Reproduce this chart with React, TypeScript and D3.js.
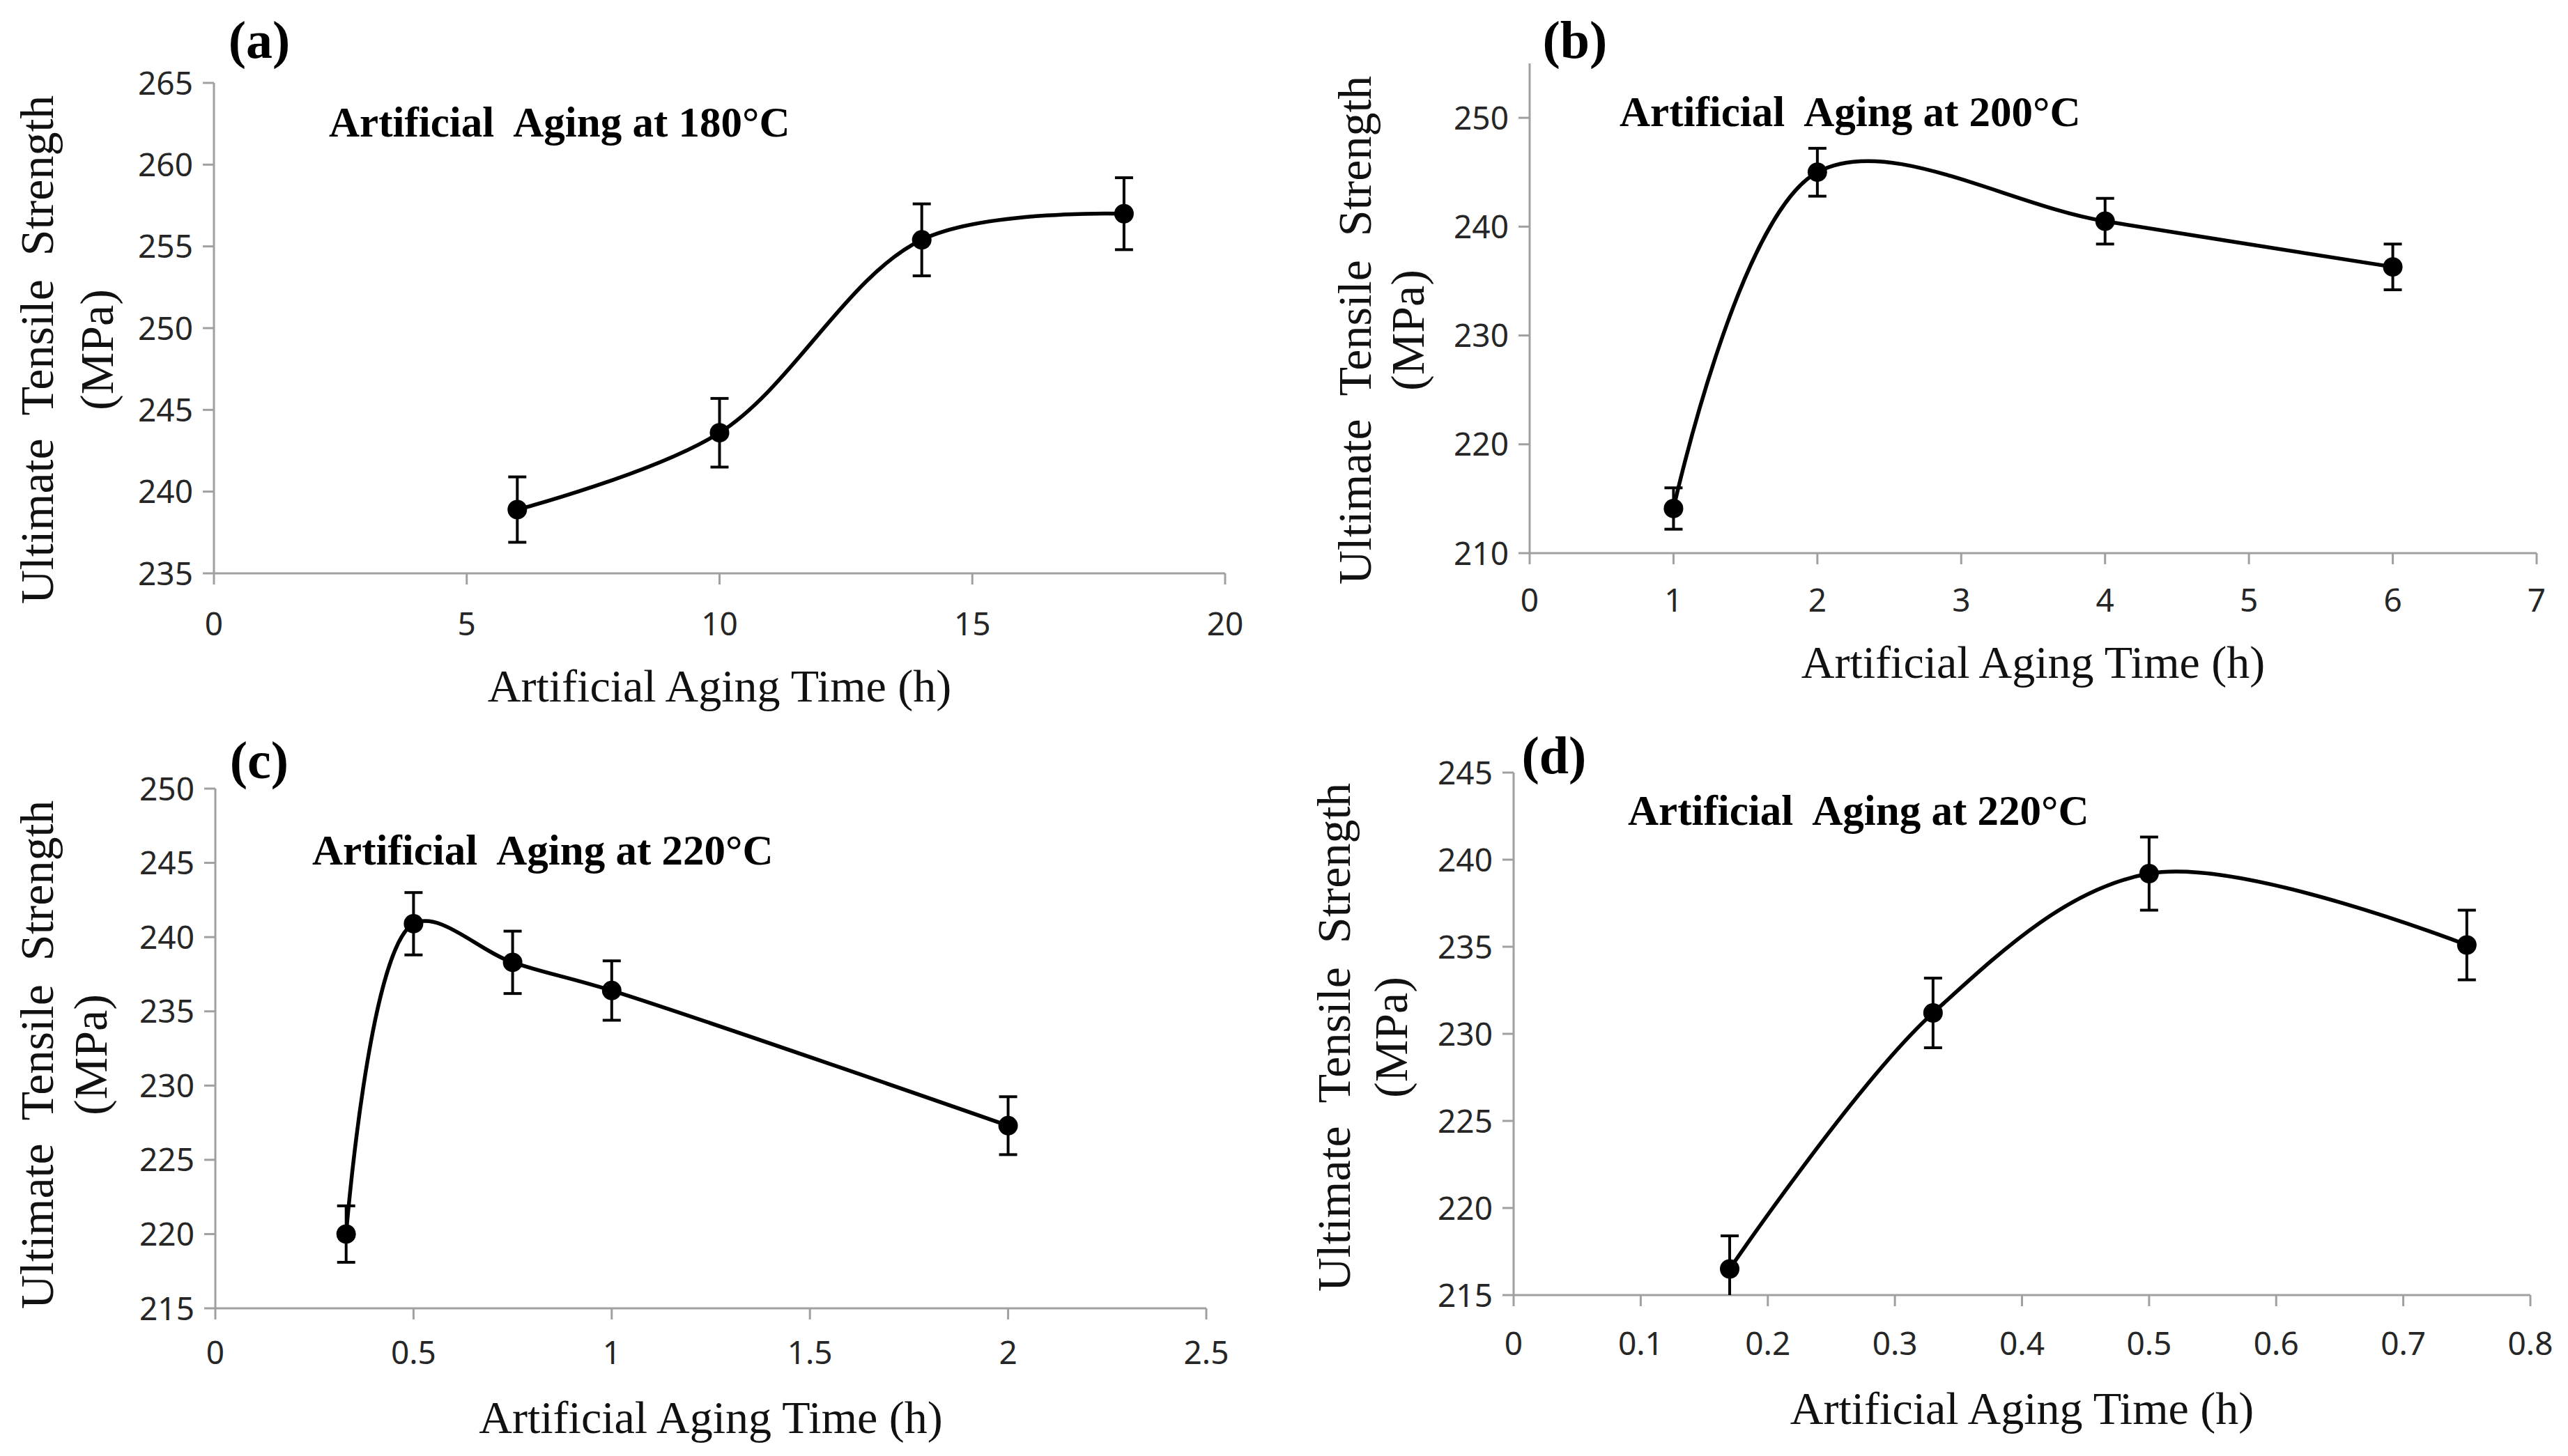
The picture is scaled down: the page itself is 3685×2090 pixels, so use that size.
import * as d3 from "d3"

const W = 3685
const H = 2090

// (a) aging at 180°C
const timeA = [6, 10, 14, 18]
const utsA = [238.9, 243.6, 255.4, 257.0]
const errA = [2.0, 2.1, 2.2, 2.2]
const xTicksA = [0, 5, 10, 15, 20]
const yTicksA = [235, 240, 245, 250, 255, 260, 265]

// (b) aging at 200°C
const timeB = [1, 2, 4, 6]
const utsB = [214.1, 245.0, 240.5, 236.3]
const errB = [1.9, 2.2, 2.1, 2.1]
const xTicksB = [0, 1, 2, 3, 4, 5, 6, 7]
const yTicksB = [210, 220, 230, 240, 250]

// (c) aging at 220°C
const timeC = [0.33, 0.5, 0.75, 1, 2]
const utsC = [220.0, 240.9, 238.3, 236.4, 227.3]
const errC = [1.9, 2.1, 2.1, 2.0, 1.95]
const xTicksC = [0, 0.5, 1, 1.5, 2, 2.5]
const yTicksC = [215, 220, 225, 230, 235, 240, 245, 250]

// (d) aging at 220°C, short times
const timeD = [0.17, 0.33, 0.5, 0.75]
const utsD = [216.5, 231.2, 239.2, 235.1]
const errD = [1.9, 2.0, 2.1, 2.0]
const xTicksD = [0, 0.1, 0.2, 0.3, 0.4, 0.5, 0.6, 0.7, 0.8]
const yTicksD = [215, 220, 225, 230, 235, 240, 245]

const panelLabels = ["(a)", "(b)", "(c)", "(d)"]
const annotations = [
  "Artificial  Aging at 180°C",
  "Artificial  Aging at 200°C",
  "Artificial  Aging at 220°C",
  "Artificial  Aging at 220°C",
]
const xTitle = "Artificial Aging Time (h)"
const yTitle = "Ultimate  Tensile  Strength"
const yUnit = "(MPa)"

const AXIS = "#a0a0a0"
const SERIF = "'Liberation Serif', 'Times New Roman', serif"
const SANS = "'Noto Sans', 'Open Sans', sans-serif"

interface PanelProps {
  id: string
  label: string
  note: string
  x: number[]
  y: number[]
  err: number[]
  xTicks: number[]
  yTicks: number[]
  xDomain: [number, number]
  yDomain: [number, number]
  box: { left: number; right: number; top: number; bottom: number }
  labelPos: [number, number]
  notePos: [number, number]
  xTickY: number
  xTitleY: number
  yTitleX: [number, number]
  yTitleY: number
}

function Panel(p: PanelProps) {
  const xScale = d3.scaleLinear().domain(p.xDomain).range([p.box.left, p.box.right])
  const yScale = d3.scaleLinear().domain(p.yDomain).range([p.box.bottom, p.box.top])
  const pts = p.x.map((t, i) => ({ t, v: p.y[i], e: p.err[i] }))

  const line = d3
    .line<{ t: number; v: number }>()
    .x((d) => xScale(d.t))
    .y((d) => yScale(d.v))
    .curve(d3.curveCatmullRom.alpha(0.5))

  const cap = 13
  const tickLen = 16
  const clipId = `clip-${p.id}`

  return (
    <g>
      <defs>
        <clipPath id={clipId}>
          <rect x={p.box.left} y={p.box.top - 200} width={p.box.right - p.box.left + 40} height={p.box.bottom - p.box.top + 200} />
        </clipPath>
      </defs>

      {/* axes */}
      <line x1={p.box.left} x2={p.box.left} y1={yScale(p.yDomain[1])} y2={p.box.bottom} stroke={AXIS} strokeWidth={3} />
      <line x1={p.box.left} x2={p.box.right} y1={p.box.bottom} y2={p.box.bottom} stroke={AXIS} strokeWidth={3} />
      {p.yTicks.map((v) => (
        <g key={`y${v}`}>
          <line x1={p.box.left - tickLen} x2={p.box.left} y1={yScale(v)} y2={yScale(v)} stroke={AXIS} strokeWidth={3} />
          <text x={p.box.left - 30} y={yScale(v)} dy="0.36em" textAnchor="end" fontFamily={SANS} fontSize={46} fill="#262626">
            {v}
          </text>
        </g>
      ))}
      {p.xTicks.map((v) => (
        <g key={`x${v}`}>
          <line x1={xScale(v)} x2={xScale(v)} y1={p.box.bottom} y2={p.box.bottom + tickLen} stroke={AXIS} strokeWidth={3} />
          <text x={xScale(v)} y={p.xTickY} dy="0.36em" textAnchor="middle" fontFamily={SANS} fontSize={46} fill="#262626">
            {String(v)}
          </text>
        </g>
      ))}

      {/* titles */}
      <text x={(p.box.left + p.box.right) / 2} y={p.xTitleY} dy="0.33em" textAnchor="middle" fontFamily={SERIF} fontSize={66} fill="#111">
        {xTitle}
      </text>
      <text
        transform={`translate(${p.yTitleX[0]},${p.yTitleY}) rotate(-90)`}
        textAnchor="middle"
        dominantBaseline="central"
        fontFamily={SERIF}
        fontSize={68}
        fill="#111"
        style={{ whiteSpace: "pre" }}
      >
        {yTitle}
      </text>
      <text
        transform={`translate(${p.yTitleX[1]},${p.yTitleY}) rotate(-90)`}
        textAnchor="middle"
        dominantBaseline="central"
        fontFamily={SERIF}
        fontSize={68}
        fill="#111"
      >
        {yUnit}
      </text>
      <text x={p.labelPos[0]} y={p.labelPos[1]} dy="0.3em" textAnchor="middle" fontFamily={SERIF} fontWeight="bold" fontSize={76} fill="#000">
        {p.label}
      </text>
      <text x={p.notePos[0]} y={p.notePos[1]} dy="0.33em" fontFamily={SERIF} fontWeight="bold" fontSize={61} fill="#000" style={{ whiteSpace: "pre" }}>
        {p.note}
      </text>

      {/* series */}
      <g clipPath={`url(#${clipId})`}>
        <path d={line(pts) ?? ""} fill="none" stroke="#000" strokeWidth={5.5} />
        {pts.map((d, i) => (
          <g key={`e${i}`} stroke="#000" strokeWidth={4}>
            <line x1={xScale(d.t)} x2={xScale(d.t)} y1={yScale(d.v + d.e)} y2={yScale(d.v - d.e)} />
            <line x1={xScale(d.t) - cap} x2={xScale(d.t) + cap} y1={yScale(d.v + d.e)} y2={yScale(d.v + d.e)} />
            <line x1={xScale(d.t) - cap} x2={xScale(d.t) + cap} y1={yScale(d.v - d.e)} y2={yScale(d.v - d.e)} />
          </g>
        ))}
        {pts.map((d, i) => (
          <circle key={`m${i}`} cx={xScale(d.t)} cy={yScale(d.v)} r={14} fill="#000" />
        ))}
      </g>
    </g>
  )
}

export default function App() {
  return (
    <svg
      width={W}
      height={H}
      viewBox={`0 0 ${W} ${H}`}
      style={{ position: "absolute", left: 0, top: 0, background: "#fff" }}
    >
      <rect width={W} height={H} fill="#fff" />
      <Panel
        id="a"
        label={panelLabels[0]}
        note={annotations[0]}
        x={timeA}
        y={utsA}
        err={errA}
        xTicks={xTicksA}
        yTicks={yTicksA}
        xDomain={[0, 20]}
        yDomain={[235, 265]}
        box={{ left: 307, right: 1758, top: 119, bottom: 823 }}
        labelPos={[372, 60]}
        notePos={[472, 176]}
        xTickY={895}
        xTitleY={985}
        yTitleX={[53, 139]}
        yTitleY={502}
      />
      <Panel
        id="b"
        label={panelLabels[1]}
        note={annotations[1]}
        x={timeB}
        y={utsB}
        err={errB}
        xTicks={xTicksB}
        yTicks={yTicksB}
        xDomain={[0, 7]}
        yDomain={[210, 255]}
        box={{ left: 2195, right: 3640, top: 91, bottom: 794 }}
        labelPos={[2260, 60]}
        notePos={[2324, 161]}
        xTickY={861}
        xTitleY={951}
        yTitleX={[1944, 2020]}
        yTitleY={474}
      />
      <Panel
        id="c"
        label={panelLabels[2]}
        note={annotations[2]}
        x={timeC}
        y={utsC}
        err={errC}
        xTicks={xTicksC}
        yTicks={yTicksC}
        xDomain={[0, 2.5]}
        yDomain={[215, 250]}
        box={{ left: 309, right: 1731, top: 1132, bottom: 1878 }}
        labelPos={[372, 1094]}
        notePos={[448, 1221]}
        xTickY={1941}
        xTitleY={2035}
        yTitleX={[53, 130]}
        yTitleY={1514}
      />
      <Panel
        id="d"
        label={panelLabels[3]}
        note={annotations[3]}
        x={timeD}
        y={utsD}
        err={errD}
        xTicks={xTicksD}
        yTicks={yTicksD}
        xDomain={[0, 0.8]}
        yDomain={[215, 245]}
        box={{ left: 2172, right: 3631, top: 1109, bottom: 1859 }}
        labelPos={[2230, 1087]}
        notePos={[2336, 1164]}
        xTickY={1928}
        xTitleY={2022}
        yTitleX={[1914, 1996]}
        yTitleY={1489}
      />
    </svg>
  )
}
